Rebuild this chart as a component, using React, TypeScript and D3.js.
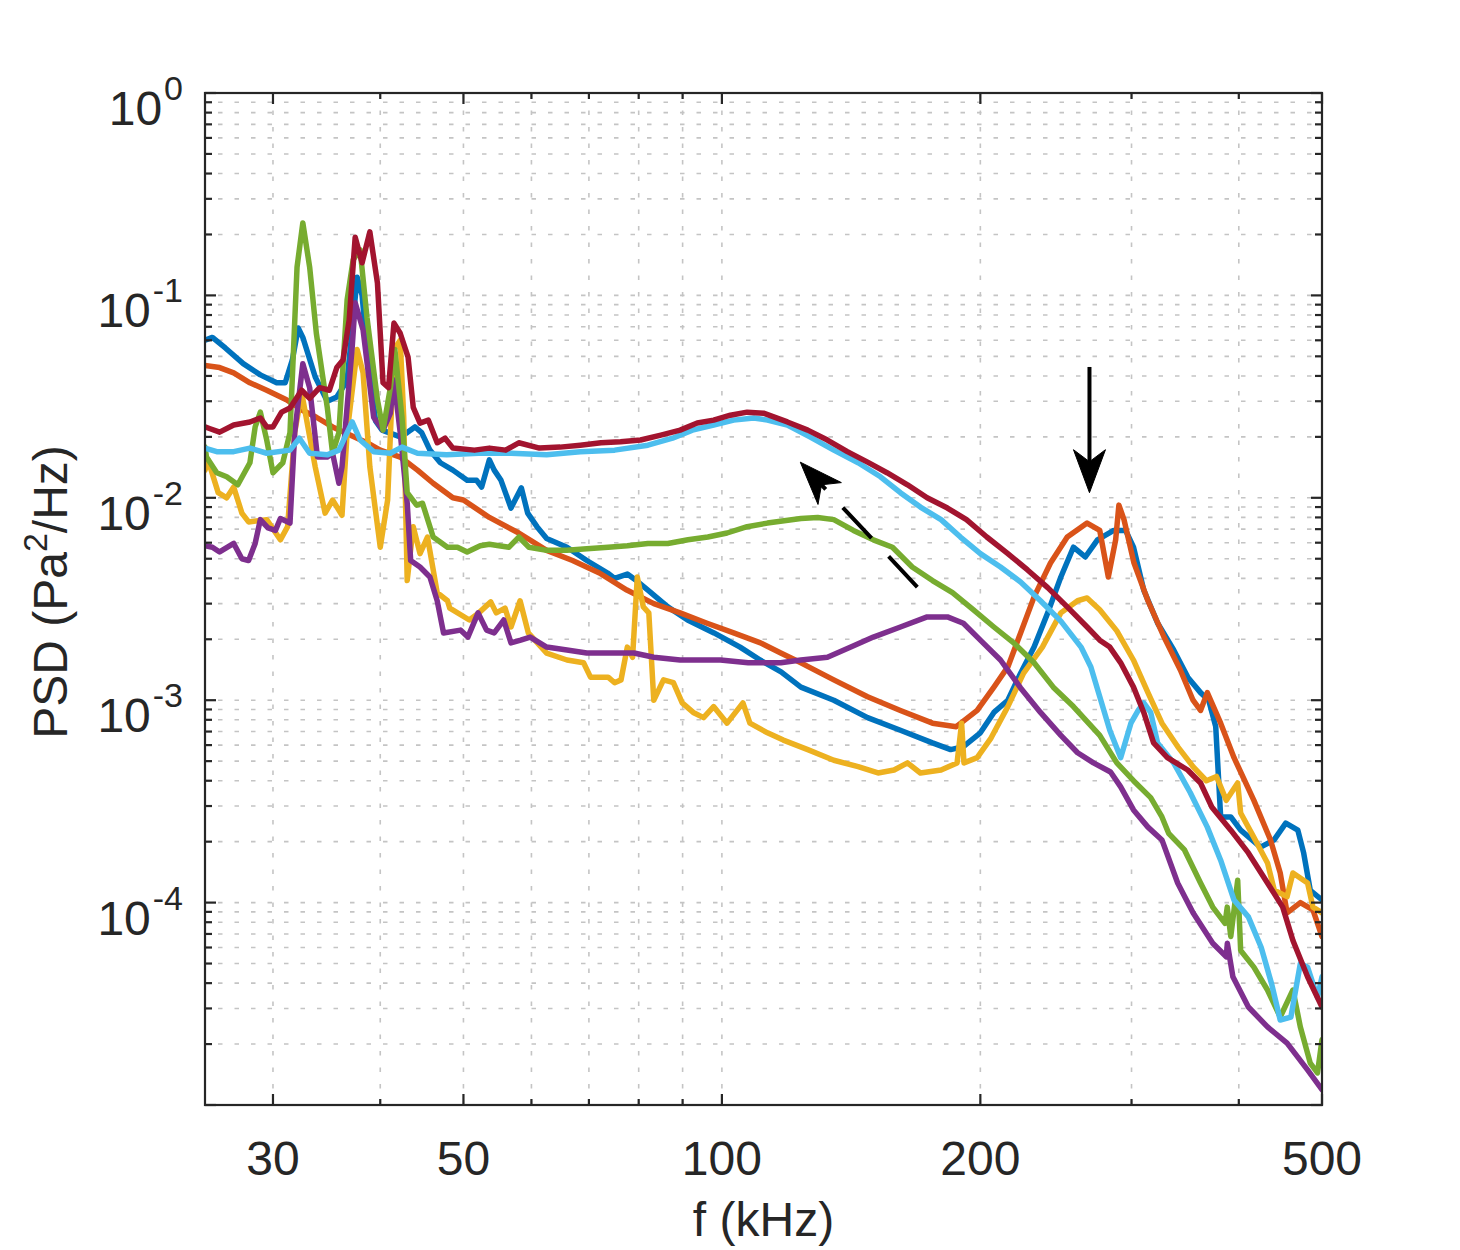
import * as d3 from "d3";
import { useMemo } from "react";

type Pt = [number, number];

// frequency in kHz, PSD in Pa^2/Hz
const blueSeries: Pt[] = [
  [25, 6.0e-2], [25.5, 6.2e-2], [26.4, 5.5e-2], [27.7, 4.6e-2], [29, 4.05e-2], [30.3, 3.7e-2], [31, 3.7e-2],
  [31.6, 4.8e-2], [32.1, 6.9e-2], [32.5, 6.2e-2], [33.6, 3.95e-2], [34.7, 3.0e-2], [35.6, 3.15e-2], [36.6, 3.8e-2],
  [37.1, 6.8e-2], [37.6, 1.23e-1], [38.1, 1.0e-1], [38.7, 4.8e-2], [39.5, 2.4e-2], [40.2, 2.16e-2], [42.2, 2.0e-2],
  [43, 2.1e-2], [43.9, 2.24e-2], [44.7, 2.1e-2], [45.7, 1.72e-2], [47, 1.49e-2], [48.6, 1.37e-2], [50.5, 1.22e-2],
  [51.8, 1.22e-2], [52.5, 1.13e-2], [53.6, 1.54e-2], [54.3, 1.37e-2], [55.3, 1.22e-2], [56.8, 8.9e-3], [58.4, 1.12e-2],
  [59.4, 8.4e-3], [60.9, 7.2e-3], [62.5, 6.3e-3], [66, 5.7e-3], [69.6, 4.9e-3], [73.6, 4.25e-3], [75, 4.0e-3],
  [77.6, 4.2e-3], [79.5, 3.9e-3], [82, 3.5e-3], [86.5, 2.89e-3], [91.2, 2.49e-3], [97.9, 2.15e-3], [105, 1.83e-3],
  [110.8, 1.58e-3], [117.2, 1.38e-3], [123.6, 1.16e-3], [135, 1.0e-3], [147.8, 8.2e-4], [161.4, 7.1e-4],
  [175.9, 6.15e-4], [184.7, 5.7e-4], [191.1, 5.9e-4], [200, 6.9e-4], [207.4, 8.7e-4], [215.3, 1.0e-3],
  [222.8, 1.36e-3], [231, 1.83e-3], [239.6, 2.7e-3], [248.2, 4.06e-3], [256.7, 5.7e-3], [265, 5.1e-3],
  [273.8, 6.2e-3], [286, 6.9e-3], [295.3, 6.9e-3], [301.6, 5.7e-3], [310, 3.5e-3], [321.8, 2.4e-3], [335.9, 1.77e-3],
  [348.8, 1.3e-3], [361, 1.09e-3], [369, 1.0e-3], [376, 7.4e-4], [381, 2.65e-4], [391.5, 2.65e-4], [402, 2.28e-4],
  [424, 1.88e-4], [439.7, 2.04e-4], [453.7, 2.47e-4], [468.6, 2.28e-4], [476, 1.76e-4], [484.5, 1.15e-4], [500, 1.03e-4],
];

const orangeSeries: Pt[] = [
  [25, 4.5e-2], [26, 4.4e-2], [27, 4.14e-2], [28.2, 3.7e-2], [29.5, 3.4e-2], [31.1, 3.05e-2], [32.5, 2.7e-2],
  [33.7, 2.5e-2], [35.2, 2.24e-2], [38.6, 1.87e-2], [40, 1.72e-2], [42.2, 1.59e-2], [44.2, 1.37e-2], [46.1, 1.18e-2],
  [48.6, 1.0e-2], [50, 9.75e-3], [53.6, 8.0e-3], [58, 6.7e-3], [62.5, 5.5e-3], [67, 4.9e-3], [72, 4.25e-3],
  [77.5, 3.5e-3], [83.3, 3.0e-3], [89.4, 2.7e-3], [96.1, 2.4e-3], [103.2, 2.15e-3], [110.9, 1.92e-3], [117.1, 1.71e-3],
  [123.6, 1.53e-3], [135, 1.26e-3], [147.8, 1.04e-3], [161.4, 8.9e-4], [175.9, 7.7e-4], [187.5, 7.4e-4],
  [198.3, 8.9e-4], [207.4, 1.16e-3], [215.3, 1.46e-3], [222.8, 2.15e-3], [231, 3.24e-3], [241.4, 4.76e-3],
  [252.5, 6.4e-3], [266.3, 7.5e-3], [275.5, 6.9e-3], [281.9, 4.06e-3], [287.5, 6.2e-3], [290, 9.2e-3], [294, 7.8e-3],
  [302, 4.76e-3], [313.5, 3.1e-3], [327, 2.07e-3], [342, 1.41e-3], [353.8, 1.0e-3], [361, 8.9e-4], [367.6, 1.09e-3],
  [381, 7.7e-4], [394.9, 5.2e-4], [416.5, 3.2e-4], [435.5, 2.04e-4], [447, 1.4e-4], [455.3, 8.9e-5], [471.8, 1.0e-4],
  [488, 9.2e-5], [500, 6.8e-5],
];

const yellowSeries: Pt[] = [
  [25, 1.37e-2], [25.2, 1.54e-2], [25.9, 1.06e-2], [26.5, 1.0e-2], [27, 1.13e-2], [27.6, 8.4e-3], [28.1, 7.6e-3],
  [29.5, 7.8e-3], [30.6, 6.2e-3], [31.2, 7.2e-3], [31.8, 2.1e-2], [32.4, 3.3e-2], [33.6, 1.42e-2], [34.5, 8.4e-3],
  [35.2, 9.75e-3], [36.1, 8.2e-3], [36.6, 2.1e-2], [37.6, 5.4e-2], [38.2, 4.14e-2], [38.9, 1.42e-2], [40, 5.7e-3],
  [40.8, 9.75e-3], [41.5, 5.4e-2], [42.2, 6.0e-2], [42.6, 2.5e-2], [43, 3.9e-3], [43.7, 7.2e-3], [44.5, 5.3e-3],
  [45.4, 6.4e-3], [46.6, 3.4e-3], [47.9, 3.1e-3], [48.2, 2.85e-3], [50.8, 2.49e-3], [52.1, 2.7e-3], [53.8, 3.06e-3],
  [54.6, 2.7e-3], [55.9, 2.85e-3], [56.8, 2.3e-3], [58.2, 3.1e-3], [59.5, 2.15e-3], [62.5, 1.71e-3], [66, 1.58e-3],
  [69, 1.53e-3], [70.3, 1.3e-3], [73.7, 1.3e-3], [75, 1.22e-3], [76.3, 1.26e-3], [77.6, 1.83e-3], [78.7, 1.63e-3],
  [79.7, 4.06e-3], [81, 2.89e-3], [82.2, 2.7e-3], [83.3, 1.0e-3], [85.5, 1.26e-3], [87.8, 1.22e-3], [89.9, 9.7e-4],
  [92.6, 8.7e-4], [95.2, 8.2e-4], [97.8, 9.3e-4], [101.4, 7.7e-4], [105.8, 9.7e-4], [107.8, 7.7e-4], [113, 6.9e-4],
  [117.9, 6.35e-4], [125.9, 5.7e-4], [135, 5.05e-4], [144.1, 4.7e-4], [152, 4.37e-4], [158.7, 4.52e-4],
  [164.5, 4.9e-4], [170.3, 4.37e-4], [180, 4.52e-4], [187.9, 4.9e-4], [190.2, 7.7e-4], [191.4, 4.9e-4],
  [198.3, 5.2e-4], [205.8, 6.5e-4], [215.3, 9.3e-4], [224.6, 1.36e-3], [236.2, 1.83e-3], [248.2, 2.7e-3],
  [259.6, 3.1e-3], [266.3, 3.2e-3], [275.5, 2.8e-3], [288.4, 2.2e-3], [301.5, 1.58e-3], [313.5, 1.09e-3],
  [325.5, 7.7e-4], [339.5, 5.9e-4], [353.8, 4.7e-4], [366.7, 4.0e-4], [376.8, 4.2e-4], [386.8, 3.2e-4],
  [398.8, 3.9e-4], [402, 2.77e-4], [416.5, 2.1e-4], [432, 1.57e-4], [440, 1.15e-4], [455.3, 1.07e-4], [462.5, 1.4e-4],
  [481, 1.25e-4], [488, 9.5e-5], [500, 8.9e-5],
];

const purpleSeries: Pt[] = [
  [25, 5.8e-3], [25.5, 5.7e-3], [26, 5.4e-3], [27, 5.95e-3], [27.6, 5.0e-3], [28.1, 4.9e-3], [28.6, 5.95e-3],
  [29, 7.8e-3], [29.6, 7.1e-3], [30.2, 6.9e-3], [30.6, 7.9e-3], [31.4, 7.5e-3], [31.8, 2.1e-2], [32.5, 4.6e-2],
  [33.1, 3.5e-2], [33.8, 1.59e-2], [34.7, 1.59e-2], [35.2, 1.66e-2], [35.8, 1.18e-2], [36.1, 1.42e-2], [37.1, 5.55e-2],
  [37.4, 9.2e-2], [38.2, 6.75e-2], [39.3, 2.5e-2], [40.3, 2.16e-2], [41.1, 2.62e-2], [41.5, 3.82e-2], [42.2, 2.1e-2],
  [43, 9.4e-3], [43.4, 4.9e-3], [44.5, 4.55e-3], [45.7, 4.06e-3], [46.6, 3.1e-3], [47.4, 2.15e-3], [49.6, 2.22e-3],
  [50.6, 2.05e-3], [52, 2.7e-3], [53.2, 2.22e-3], [54.3, 2.15e-3], [55.7, 2.49e-3], [56.8, 1.92e-3], [58.3, 1.98e-3],
  [59.8, 2.05e-3], [62.5, 1.83e-3], [66, 1.77e-3], [69.6, 1.71e-3], [74.8, 1.71e-3], [79, 1.71e-3], [83.3, 1.63e-3],
  [89.4, 1.58e-3], [94.3, 1.58e-3], [99.6, 1.58e-3], [107.3, 1.53e-3], [117.1, 1.53e-3], [123.6, 1.58e-3],
  [132.7, 1.63e-3], [141.3, 1.83e-3], [150.1, 2.05e-3], [161.4, 2.3e-3], [173.4, 2.58e-3], [183.1, 2.58e-3],
  [191.1, 2.4e-3], [200, 1.98e-3], [211.1, 1.58e-3], [222.8, 1.15e-3], [235, 8.7e-4], [248.2, 6.7e-4], [259.6, 5.5e-4],
  [270.9, 4.9e-4], [283.6, 4.42e-4], [291.4, 3.73e-4], [301.6, 2.87e-4], [313.5, 2.36e-4], [325.5, 2.04e-4],
  [339.5, 1.25e-4], [353.8, 8.9e-5], [373, 6.3e-5], [386.8, 5.4e-5], [387.9, 6.3e-5], [393.7, 4.3e-5],
  [410.4, 3.05e-5], [432, 2.43e-5], [455.3, 2.02e-5], [481, 1.49e-5], [500, 1.19e-5],
];

const greenSeries: Pt[] = [
  [25, 1.78e-2], [25.1, 1.59e-2], [25.8, 1.33e-2], [26.5, 1.27e-2], [27.3, 1.16e-2], [28.2, 1.49e-2], [28.6, 2.24e-2],
  [29, 2.65e-2], [29.5, 1.93e-2], [30, 1.33e-2], [30.8, 1.49e-2], [31.4, 2.1e-2], [32, 1.38e-1], [32.5, 2.28e-1],
  [33.1, 1.38e-1], [33.7, 6.5e-2], [34.7, 2.8e-2], [35.2, 1.66e-2], [35.8, 2.1e-2], [36.6, 9.5e-2], [37.2, 1.5e-1],
  [37.9, 1.68e-1], [38.6, 7.8e-2], [39.7, 3.05e-2], [40.3, 2.16e-2], [41.1, 3.5e-2], [41.6, 5.4e-2], [42.4, 2.5e-2],
  [43, 1.06e-2], [44.1, 9.2e-3], [44.8, 9.4e-3], [46.1, 6.4e-3], [47.9, 5.7e-3], [49.2, 5.7e-3], [50.5, 5.4e-3],
  [52.3, 5.8e-3], [53.6, 5.9e-3], [55, 5.8e-3], [56.5, 5.7e-3], [58, 6.4e-3], [59.6, 5.7e-3], [62.5, 5.5e-3],
  [66, 5.5e-3], [69.6, 5.6e-3], [73.7, 5.7e-3], [77.6, 5.8e-3], [82, 5.95e-3], [86.5, 5.95e-3], [91.3, 6.2e-3],
  [96.3, 6.4e-3], [101.4, 6.7e-3], [107, 7.2e-3], [113, 7.5e-3], [123.6, 7.9e-3], [129.3, 8.0e-3], [135, 7.8e-3],
  [142.3, 6.9e-3], [150.1, 6.2e-3], [158, 5.7e-3], [166.6, 4.55e-3], [175.9, 3.9e-3], [185.6, 3.4e-3],
  [196.2, 2.8e-3], [207.4, 2.3e-3], [218.7, 1.92e-3], [231, 1.53e-3], [243.2, 1.16e-3], [256.7, 9.3e-4],
  [275.5, 6.7e-4], [288.4, 4.9e-4], [301.6, 4.0e-4], [315.8, 3.3e-4], [325.5, 2.65e-4], [331.4, 2.2e-4],
  [345.8, 1.82e-4], [361, 1.25e-4], [373, 9.5e-5], [385.5, 7.9e-5], [387.8, 9.5e-5], [391.5, 6.8e-5],
  [398.8, 1.29e-4], [402, 5.8e-5], [416.5, 4.8e-5], [432, 3.7e-5], [447, 2.72e-5], [462.5, 3.7e-5], [471.8, 2.43e-5],
  [484.5, 1.61e-5], [494, 1.44e-5], [500, 2.1e-5],
];

const lightBlueSeries: Pt[] = [
  [25, 1.76e-2], [25.8, 1.69e-2], [27, 1.69e-2], [28.2, 1.76e-2], [29.5, 1.66e-2], [31.4, 1.72e-2], [32.2, 1.97e-2],
  [33.1, 1.66e-2], [34.7, 1.63e-2], [35.8, 1.72e-2], [37.1, 2.37e-2], [37.9, 1.93e-2], [39.3, 1.69e-2],
  [41.1, 1.66e-2], [42.4, 1.78e-2], [44.2, 1.66e-2], [47.8, 1.63e-2], [52.1, 1.66e-2], [56.8, 1.66e-2],
  [62.5, 1.63e-2], [68.4, 1.69e-2], [75, 1.72e-2], [82, 1.82e-2], [87.6, 1.97e-2], [92.4, 2.16e-2], [97.8, 2.29e-2],
  [103.2, 2.42e-2], [108.9, 2.48e-2], [113, 2.42e-2], [119.2, 2.29e-2], [126.6, 2.0e-2], [135, 1.72e-2],
  [144.1, 1.49e-2], [153, 1.27e-2], [161.4, 1.06e-2], [170.3, 9.0e-3], [180, 7.8e-3], [189.6, 6.4e-3], [200, 5.3e-3],
  [211.1, 4.55e-3], [222.8, 3.84e-3], [235, 3.1e-3], [248.2, 2.46e-3], [262, 1.83e-3], [269, 1.46e-3],
  [275.5, 1.04e-3], [283, 7.1e-4], [291.4, 5.2e-4], [299.5, 7.7e-4], [305.4, 8.9e-4], [310, 9.7e-4], [315.8, 8.7e-4],
  [321.7, 6.15e-4], [335.9, 4.9e-4], [351.1, 3.5e-4], [367.6, 2.36e-4], [381, 1.62e-4], [394.9, 1.03e-4],
  [410.4, 8.5e-5], [424.8, 6.0e-5], [436.6, 4.0e-5], [447, 2.63e-5], [460, 2.72e-5], [471.8, 5.0e-5], [481, 4.8e-5],
  [494, 3.4e-5], [500, 4.3e-5],
];

const darkRedSeries: Pt[] = [
  [25, 2.24e-2], [25.3, 2.2e-2], [26, 2.11e-2], [27, 2.29e-2], [28.2, 2.37e-2], [29, 2.48e-2], [29.5, 2.24e-2],
  [30, 2.24e-2], [30.7, 2.65e-2], [31.4, 2.78e-2], [32.4, 3.4e-2], [33.1, 3.1e-2], [34, 3.5e-2], [34.9, 3.4e-2],
  [35.6, 4.4e-2], [36.2, 4.8e-2], [36.8, 7.55e-2], [37.4, 1.94e-1], [38.1, 1.45e-1], [38.9, 2.06e-1], [39.7, 1.15e-1],
  [40.3, 3.7e-2], [40.9, 3.5e-2], [41.5, 7.3e-2], [42.2, 6.5e-2], [43.1, 4.95e-2], [43.7, 2.8e-2], [44.5, 2.34e-2],
  [45.5, 2.42e-2], [46.6, 1.87e-2], [47.6, 1.97e-2], [48.6, 1.76e-2], [51.5, 1.72e-2], [53.6, 1.76e-2],
  [56, 1.72e-2], [58, 1.87e-2], [61.3, 1.76e-2], [64.8, 1.78e-2], [68.4, 1.82e-2], [72.3, 1.87e-2], [76.2, 1.89e-2],
  [80.4, 1.93e-2], [84.9, 2.04e-2], [89.4, 2.16e-2], [93.6, 2.34e-2], [97.8, 2.42e-2], [102.3, 2.56e-2],
  [107, 2.65e-2], [111.8, 2.62e-2], [119.2, 2.37e-2], [125.9, 2.16e-2], [132.7, 1.93e-2], [140, 1.69e-2],
  [147.8, 1.5e-2], [155.7, 1.33e-2], [164.5, 1.16e-2], [173.4, 1.0e-2], [183.1, 8.9e-3], [192.7, 7.8e-3],
  [203.5, 6.4e-3], [215.3, 5.3e-3], [227, 4.4e-3], [239.6, 3.6e-3], [252.5, 2.89e-3], [266.3, 2.3e-3],
  [275.5, 1.98e-3], [283, 1.83e-3], [291.4, 1.53e-3], [301.6, 1.16e-3], [310, 8.7e-4], [318.3, 6.15e-4],
  [330.3, 5.2e-4], [348.8, 4.52e-4], [361, 3.9e-4], [372, 2.97e-4], [391.5, 2.28e-4], [410.4, 1.76e-4],
  [432, 1.25e-4], [450, 9.5e-5], [462.5, 6.5e-5], [481, 4.3e-5], [500, 3.05e-5],
];

const seriesList: { data: Pt[]; color: string }[] = [
  { data: blueSeries, color: "#0072BD" },
  { data: orangeSeries, color: "#D95319" },
  { data: yellowSeries, color: "#EDB120" },
  { data: purpleSeries, color: "#7E2F8E" },
  { data: greenSeries, color: "#77AC30" },
  { data: lightBlueSeries, color: "#4DBEEE" },
  { data: darkRedSeries, color: "#A2142F" },
];

const xTicks = [30, 50, 100, 200, 500];
const xMinorTicks = [40, 60, 70, 80, 90, 300, 400];
const yTickExponents = [0, -1, -2, -3, -4];
const yMajorTicks = [1, 1e-1, 1e-2, 1e-3, 1e-4, 1e-5];
const yMinorMantissas = [2, 3, 4, 5, 6, 7, 8, 9];

// annotation arrows, [from, to] in data units
const peakArrow: [Pt, Pt] = [[268, 4.43e-2], [268, 1.06e-2]];
const shiftArrow: [Pt, Pt] = [[168.9, 3.62e-3], [123.4, 1.5e-2]];

const width = 1460;
const height = 1250;
const plot = { left: 205, right: 1322, top: 93, bottom: 1105 };
const axisColor = "#262626";
const gridColor = "#c4c4c4";
const font = "'Liberation Sans', Arial, Helvetica, sans-serif";

function arrowGeometry(from: [number, number], tip: [number, number]) {
  const headLength = 43;
  const halfWidth = 16;
  const notch = 31;
  const dx = tip[0] - from[0];
  const dy = tip[1] - from[1];
  const len = Math.hypot(dx, dy);
  const ux = dx / len;
  const uy = dy / len;
  const px = -uy;
  const py = ux;
  const baseX = tip[0] - ux * headLength;
  const baseY = tip[1] - uy * headLength;
  const notchX = tip[0] - ux * notch;
  const notchY = tip[1] - uy * notch;
  const head = [
    [tip[0], tip[1]],
    [baseX + px * halfWidth, baseY + py * halfWidth],
    [notchX, notchY],
    [baseX - px * halfWidth, baseY - py * halfWidth],
  ]
    .map((p) => p.join(","))
    .join(" ");
  return { shaftEnd: [notchX + ux * 2, notchY + uy * 2], head };
}

export default function App() {
  const chart = useMemo(() => {
    const x = d3.scaleLog().domain([25, 500]).range([plot.left, plot.right]);
    const y = d3.scaleLog().domain([1e-5, 1]).range([plot.bottom, plot.top]);
    const line = d3
      .line<Pt>()
      .x((d) => x(d[0]))
      .y((d) => y(d[1]));
    const yMinor: number[] = [];
    yMajorTicks.slice(1).forEach((base) => yMinorMantissas.forEach((m) => yMinor.push(base * m)));
    return { x, y, line, yMinor };
  }, []);

  const { x, y, line, yMinor } = chart;
  const xGrid = [...xTicks, ...xMinorTicks];
  const yGrid = [...yMajorTicks, ...yMinor];

  const toPx = (p: Pt): [number, number] => [x(p[0]), y(p[1])];
  const arrows = [
    { from: toPx(peakArrow[0]), tip: toPx(peakArrow[1]), dash: undefined },
    { from: toPx(shiftArrow[0]), tip: toPx(shiftArrow[1]), dash: "42 25" },
  ];

  return (
    <div style={{ position: "absolute", left: 0, top: 0, background: "#fff" }}>
      <svg width={width} height={height} viewBox={`0 0 ${width} ${height}`} style={{ display: "block" }}>
        <rect width={width} height={height} fill="#fff" />
        <defs>
          <clipPath id="plot-clip">
            <rect x={plot.left} y={plot.top} width={plot.right - plot.left} height={plot.bottom - plot.top} />
          </clipPath>
        </defs>

        {/* dotted grid */}
        <g stroke={gridColor} strokeWidth={1.6} strokeDasharray="4.5 12" fill="none">
          {xGrid.map((t) => (
            <line key={`gx-${t}`} x1={x(t)} x2={x(t)} y1={plot.bottom} y2={plot.top} />
          ))}
          {yGrid.map((t) => (
            <line key={`gy-${t}`} x1={plot.left + 13} x2={plot.right} y1={y(t)} y2={y(t)} />
          ))}
        </g>

        {/* spectra */}
        <g clipPath="url(#plot-clip)">
          {seriesList.map((s) => (
            <path
              key={s.color}
              d={line(s.data) ?? ""}
              fill="none"
              stroke={s.color}
              strokeWidth={5.5}
              strokeLinejoin="round"
              strokeLinecap="round"
            />
          ))}
        </g>

        {/* arrows */}
        {arrows.map((a, i) => {
          const g = arrowGeometry(a.from, a.tip);
          return (
            <g key={`arrow-${i}`}>
              <line
                x1={a.from[0]}
                y1={a.from[1]}
                x2={g.shaftEnd[0]}
                y2={g.shaftEnd[1]}
                stroke="#000"
                strokeWidth={4}
                strokeDasharray={a.dash}
              />
              <polygon points={g.head} fill="#000" stroke="#000" strokeWidth={1} strokeLinejoin="miter" />
            </g>
          );
        })}

        {/* ticks on all four sides */}
        <g stroke={axisColor} strokeWidth={2.2}>
          {xTicks.map((t) => (
            <g key={`xt-${t}`}>
              <line x1={x(t)} x2={x(t)} y1={plot.bottom} y2={plot.bottom - 11} />
              <line x1={x(t)} x2={x(t)} y1={plot.top} y2={plot.top + 11} />
            </g>
          ))}
          {xMinorTicks.map((t) => (
            <g key={`xm-${t}`}>
              <line x1={x(t)} x2={x(t)} y1={plot.bottom} y2={plot.bottom - 6} />
              <line x1={x(t)} x2={x(t)} y1={plot.top} y2={plot.top + 6} />
            </g>
          ))}
          {yMajorTicks.map((t) => (
            <g key={`yt-${t}`}>
              <line x1={plot.left} x2={plot.left + 11} y1={y(t)} y2={y(t)} />
              <line x1={plot.right} x2={plot.right - 11} y1={y(t)} y2={y(t)} />
            </g>
          ))}
          {yMinor.map((t) => (
            <g key={`ym-${t}`}>
              <line x1={plot.left} x2={plot.left + 7} y1={y(t)} y2={y(t)} />
              <line x1={plot.right} x2={plot.right - 7} y1={y(t)} y2={y(t)} />
            </g>
          ))}
        </g>

        <rect
          x={plot.left}
          y={plot.top}
          width={plot.right - plot.left}
          height={plot.bottom - plot.top}
          fill="none"
          stroke={axisColor}
          strokeWidth={2.2}
        />

        {/* tick labels */}
        <g fill={axisColor} fontFamily={font}>
          {xTicks.map((t) => (
            <text key={`xl-${t}`} x={x(t)} y={1175} fontSize={48} textAnchor="middle">
              {t}
            </text>
          ))}
          {yTickExponents.map((e) => (
            <text key={`yl-${e}`} x={183} y={y(Math.pow(10, e)) + 32} fontSize={48} textAnchor="end">
              <tspan>10</tspan>
              <tspan dy={-25} dx={2} fontSize={34}>
                {e < 0 ? `-${-e}` : `${e}`}
              </tspan>
            </text>
          ))}
        </g>

        {/* axis titles */}
        <g fill={axisColor} fontFamily={font}>
          <text x={(plot.left + plot.right) / 2} y={1236} fontSize={48} textAnchor="middle">
            f (kHz)
          </text>
          <text transform="translate(67, 592) rotate(-90)" fontSize={48} textAnchor="middle">
            <tspan>PSD (Pa</tspan>
            <tspan dy={-20} fontSize={34}>
              2
            </tspan>
            <tspan dy={20}>/Hz)</tspan>
          </text>
        </g>
      </svg>
    </div>
  );
}
